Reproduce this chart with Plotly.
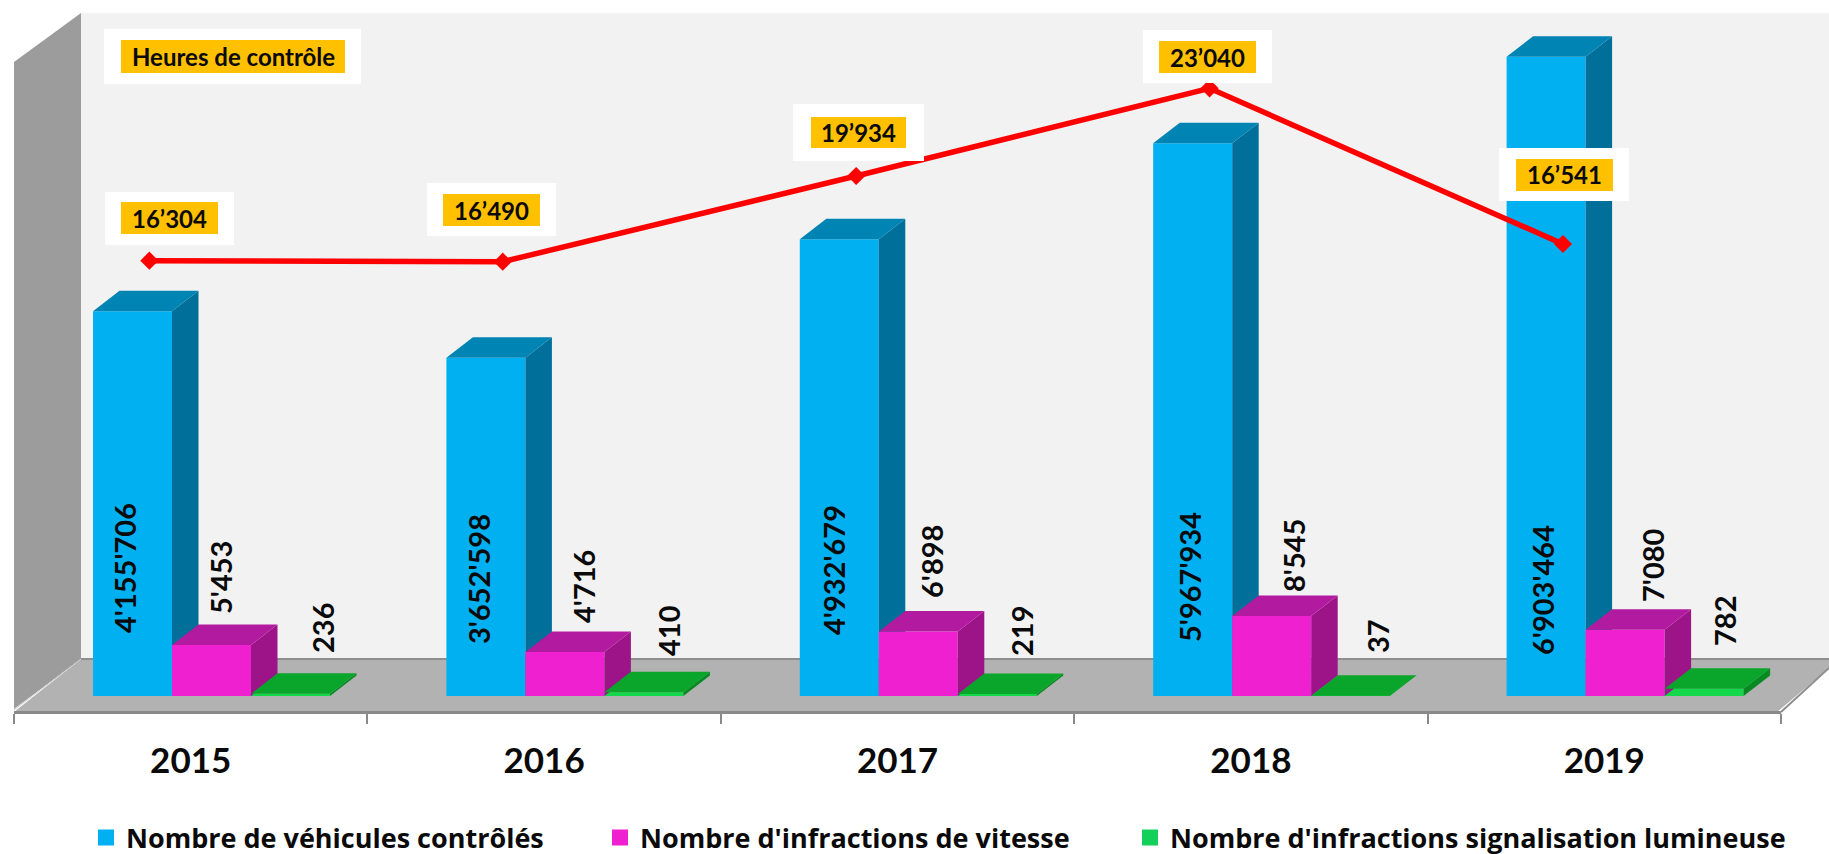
import plotly.graph_objects as go

# ---- data ----
years = ["2015", "2016", "2017", "2018", "2019"]
vehicules = [4155706, 3652598, 4932679, 5967934, 6903464]
vitesse = [5453, 4716, 6898, 8545, 7080]
feux = [236, 410, 219, 37, 782]
heures_labels = ["16’304", "16’490", "19’934", "23’040", "16’541"]
# the red line is hand-placed in the source: heights
heures_line = [16935, 16899, 19934, 23040, 17526]
series_names = ["Nombre de véhicules contrôlés",
                "Nombre d'infractions de vitesse",
                "Nombre d'infractions signalisation lumineuse"]
veh_labels = ["4'155'706", "3'652'598", "4'932'679", "5'967'934", "6'903'464"]
vit_labels = ["5'453", "4'716", "6'898", "8'545", "7'080"]
feu_labels = ["236", "410", "219", "37", "782"]

# ---- geometry / style ----
W, H = 1829, 866   # a little taller than the window so the last legend fits without pushing the margins
FONT = "Lato"
INK = "#0a0a0a"
PX_L, PX_R = 14, 1781          # x axis extent
PX_BASE, PX_TOP = 696, 10      # bar baseline / plot top
PX_AXIS = 712
CAT = (PX_R - PX_L) / 5
BAR = 79 / CAT
DX = 26.5 / CAT
DEPTH_PX = 20.5
Y1_MAX = (PX_BASE - PX_TOP) / 92.6e-6
Y2_MAX = (PX_BASE - PX_TOP) / 0.00935
Y3_LO, Y3_HI = 1520, 25812
DY1 = DEPTH_PX * Y1_MAX / (PX_BASE - PX_TOP)
DY2 = DEPTH_PX * Y2_MAX / (PX_BASE - PX_TOP)
OFFS = [79 / CAT - .5, 158 / CAT - .5, 237 / CAT - .5]
LINE_OFF = -0.117

C = {"front": ["#00B0F0", "#EE20CF", "#12D84A"],
     "top": ["#0084B4", "#B21B9F", "#0AA52B"],
     "side": ["#006F9A", "#9C1488", "#078A22"],
     "legend": ["#00B0F0", "#EE20CF", "#12D05A"]}


def px(x):
    return x / W


def py(y):
    return 1 - y / H


def faces(values, off, dy):
    tx, ty, sx, sy = [], [], [], []
    for i, v in enumerate(values):
        l = i + off
        r = l + BAR
        tx += [l, r, r + DX, l + DX, l, None]
        ty += [v, v, v + dy, v + dy, v, None]
        sx += [r, r + DX, r + DX, r, r, None]
        sy += [0, dy, v + dy, v, 0, None]
    return tx, ty, sx, sy


fig = go.Figure()
xs = list(range(len(years)))
for k, (vals, ya, dy) in enumerate([(vehicules, "y", DY1), (vitesse, "y2", DY2), (feux, "y2", DY2)]):
    tx, ty, sx, sy = faces(vals, OFFS[k], dy)
    fig.add_trace(go.Bar(x=xs, y=vals, yaxis=ya, width=BAR, offset=OFFS[k],
                         marker=dict(color=C["front"][k], line=dict(width=0)),
                         showlegend=False, hoverinfo="skip"))
    for fx, fy, col in [(sx, sy, C["side"][k]), (tx, ty, C["top"][k])]:
        fig.add_trace(go.Scatter(x=fx, y=fy, yaxis=ya, mode="lines", fill="toself",
                                 fillcolor=col, line=dict(width=0, color=col),
                                 showlegend=False, hoverinfo="skip"))

fig.add_trace(go.Scatter(x=[i + LINE_OFF for i in xs], y=heures_line, yaxis="y3",
                         mode="lines+markers", line=dict(color="#FF0000", width=5.5),
                         marker=dict(symbol="diamond", size=14, color="#FF0000"),
                         showlegend=False, hoverinfo="skip"))

# legend entries: one legend per series, so each sits at its own place
legend_ids = ["legend", "legend2", "legend3"]
for k, name in enumerate(series_names):
    fig.add_trace(go.Scatter(x=[None], y=[None], name=name, mode="markers", yaxis="y",
                             legend=legend_ids[k],
                             marker=dict(symbol="square", size=16, color=C["legend"][k])))

# ---- chart furniture ----
shapes = [
    dict(type="rect", x0=px(81), x1=1, y0=py(659), y1=py(13), fillcolor="#F2F2F2"),
    dict(type="path", path=f"M {px(14)} {py(62)} L {px(81)} {py(13)} L {px(81)} {py(659)} L {px(14)} {py(709)} Z",
         fillcolor="#9C9C9C"),
    dict(type="path", path=f"M {px(14)} {py(712)} L {px(81)} {py(659)} L 1 {py(659)} L 1 {py(668)} L {px(1777)} {py(712)} Z",
         fillcolor="#B2B2B2"),
    dict(type="line", x0=px(81), x1=1, y0=py(659), y1=py(659), line=dict(color="#8E8E8E", width=2)),
    dict(type="line", x0=px(14), x1=px(81), y0=py(710), y1=py(659), line=dict(color="#D0D0D0", width=1)),
    dict(type="line", x0=px(1781), x1=1, y0=py(712), y1=py(668), line=dict(color="#8E8E8E", width=2)),
]
for s in shapes:
    s.update(xref="paper", yref="paper", layer="below")
    if "line" not in s:
        s["line"] = dict(width=0)

# white box (x0, x1, y0, y1), orange box, caption
boxes = [
    ((104, 361, 29, 84), (121, 345, 40, 73), "Heures de contrôle", 24),
    ((105, 234, 192, 245), (121, 218, 202, 234), heures_labels[0], 24),
    ((427, 556, 183, 236), (443, 540, 194, 226), heures_labels[1], 24),
    ((793, 924, 104, 161), (811, 906, 117, 148), heures_labels[2], 24),
    ((1143, 1272, 30, 83), (1159, 1256, 41, 73), heures_labels[3], 24),
    ((1499, 1629, 148, 201), (1516, 1613, 159, 191), heures_labels[4], 24),
]
annotations = []
for wb, ob, text, size in boxes:
    for b, col in [(wb, "#FFFFFF"), (ob, "#FFC000")]:
        shapes.append(dict(type="rect", xref="paper", yref="paper", layer="above",
                           x0=px(b[0]), x1=px(b[1]), y0=py(b[2]), y1=py(b[3]),
                           fillcolor=col, line=dict(width=0)))
    annotations.append(dict(xref="paper", yref="paper", x=px((ob[0] + ob[1]) / 2), y=py((ob[2] + ob[3]) / 2),
                            text=text, showarrow=False, xanchor="center", yanchor="middle",
                            font=dict(family=FONT, size=size, color=INK, weight=700)))

label_pos = [
    (veh_labels, [124, 478, 833, 1189, 1542], [568, 579, 570, 577, 590]),
    (vit_labels, [220, 583, 931, 1293, 1652], [578, 587, 562, 556, 565]),
    (feu_labels, [322, 668, 1021, 1377, 1724], [628, 631, 631, 636, 621]),
]
for texts, lx, ly in label_pos:
    for t, x, y in zip(texts, lx, ly):
        annotations.append(dict(xref="paper", yref="paper", x=px(x), y=py(y), text=t, textangle=-90,
                                showarrow=False, xanchor="center", yanchor="middle",
                                font=dict(family=FONT, size=29, color=INK, weight=700)))


def legend_at(x):
    return dict(x=px(x), y=py(838), xanchor="left", yanchor="middle", orientation="h",
                bgcolor="rgba(0,0,0,0)", itemsizing="trace", itemclick=False, itemdoubleclick=False,
                font=dict(family="Open Sans", size=27, color=INK, weight=700))


y_dom = [py(PX_BASE), py(PX_TOP)]
fig.update_layout(
    width=W, height=H, margin=dict(l=0, r=0, t=0, b=0, pad=0),
    paper_bgcolor="#FFFFFF", plot_bgcolor="rgba(0,0,0,0)",
    barmode="overlay", hovermode=False,
    shapes=shapes, annotations=annotations,
    legend=legend_at(86), legend2=legend_at(600), legend3=legend_at(1130),
    xaxis=dict(domain=[px(PX_L), px(PX_R)], range=[-.5, 4.5], anchor="free", position=py(PX_AXIS),
               tickmode="array", tickvals=xs, ticktext=years, ticks="", showgrid=False, zeroline=False,
               showline=True, linecolor="#8A8A8A", linewidth=3, ticklabelstandoff=17,
               tickfont=dict(family=FONT, size=35, color=INK, weight=700),
               minor=dict(tickmode="array", tickvals=[-.5, .5, 1.5, 2.5, 3.5, 4.5], ticks="outside",
                          ticklen=10, tickwidth=2, tickcolor="#8A8A8A", showgrid=False)),
    yaxis=dict(domain=y_dom, range=[0, Y1_MAX], visible=False, anchor="x"),
    yaxis2=dict(domain=y_dom, range=[0, Y2_MAX], visible=False, overlaying="y", anchor="x"),
    yaxis3=dict(domain=y_dom, range=[Y3_LO, Y3_HI], visible=False, overlaying="y", anchor="x"),
)

fig.write_html("out.html", post_script="document.body.style.margin='0';document.documentElement.style.overflow='hidden';",
               config={"displayModeBar": False})
